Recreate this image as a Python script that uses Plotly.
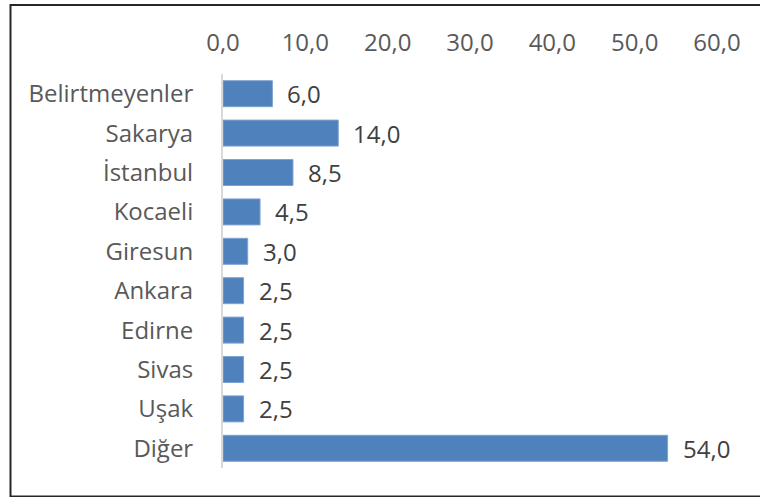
import plotly.graph_objects as go

categories = ["Belirtmeyenler", "Sakarya", "İstanbul", "Kocaeli", "Giresun",
              "Ankara", "Edirne", "Sivas", "Uşak", "Diğer"]
values = [6.0, 14.0, 8.5, 4.5, 3.0, 2.5, 2.5, 2.5, 2.5, 54.0]
x_ticks = [0, 10, 20, 30, 40, 50, 60]

FONT = "Open Sans"
FS = 24
W, H = 760, 497
L, R, T, B = 223, 43, 74, 29
pw, ph = W - L - R, H - T - B

fig = go.Figure()
fig.add_trace(go.Bar(
    y=categories, x=values, orientation="h",
    marker=dict(color="#4F81BD", line=dict(color="#7FA3D0", width=1)),
    hoverinfo="x+y",
))

for c, v in zip(categories, values):
    fig.add_annotation(x=v, y=c, xref="x", yref="y", text=f"{v:.1f}".replace(".", ","),
                       showarrow=False, xanchor="left", xshift=13,
                       font=dict(family=FONT, size=FS, color="#404040"))

def px_to_paper_x(p):
    return (p - L) / pw

def px_to_paper_y(p):
    return (H - B - p) / ph

fig.add_shape(type="rect", xref="paper", yref="paper",
              x0=px_to_paper_x(10.5), x1=px_to_paper_x(765),
              y0=px_to_paper_y(496.5), y1=px_to_paper_y(5),
              line=dict(color="#262626", width=2), layer="above")

fig.update_layout(
    width=W, height=H,
    margin=dict(l=L, r=R, t=T, b=B),
    paper_bgcolor="white", plot_bgcolor="white",
    separators=",.",
    bargap=0.34,
    showlegend=False,
    font=dict(family=FONT, size=FS, color="#595959"),
    xaxis=dict(side="top", range=[0, 60], tickvals=x_ticks, tickformat=".1f",
               showgrid=False, zeroline=False, showline=False, ticks="",
               ticklabelstandoff=17,
               tickfont=dict(family=FONT, size=FS, color="#595959")),
    yaxis=dict(autorange="reversed", showgrid=False, zeroline=False,
               showline=True, linecolor="#D9D9D9", linewidth=2, ticks="",
               ticklabelstandoff=23,
               tickfont=dict(family=FONT, size=FS, color="#595959")),
)

fig.write_html("out.html", config={"displayModeBar": False},
               post_script="document.body.style.margin='0px';")
